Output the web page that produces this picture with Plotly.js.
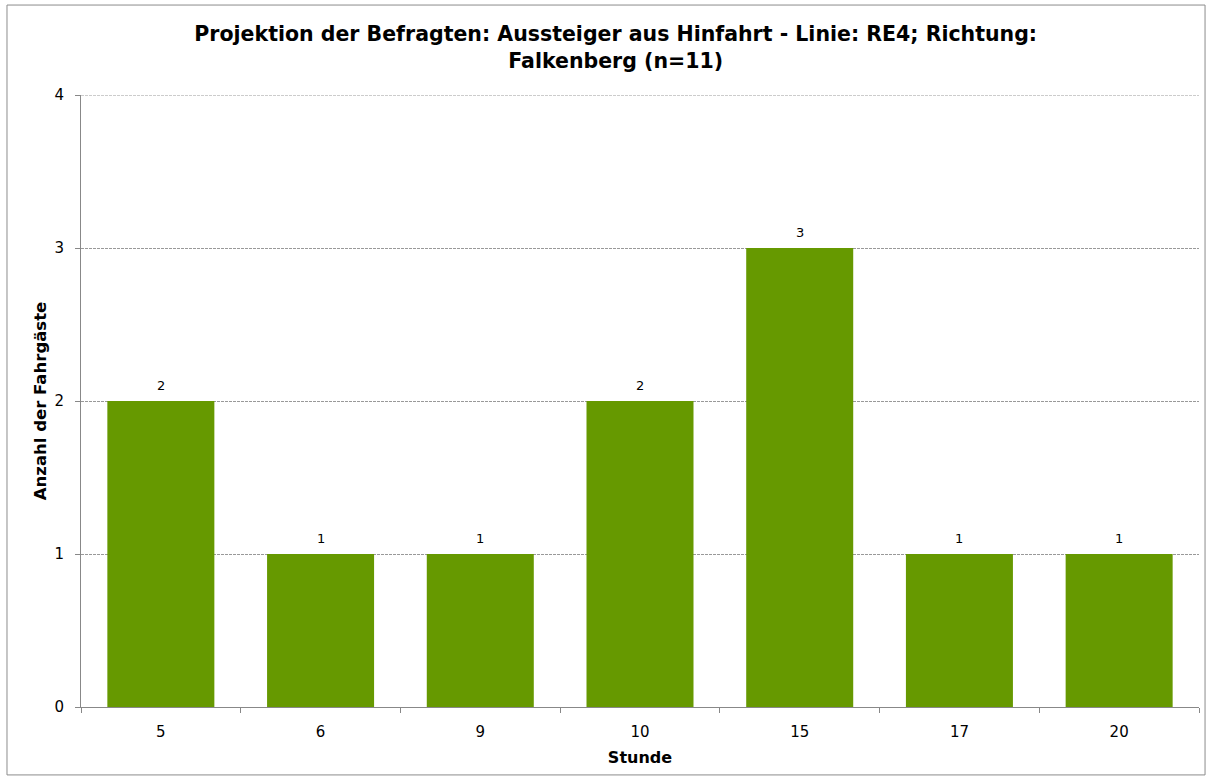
<!DOCTYPE html>
<html>
<head>
<meta charset="utf-8">
<script src="https://cdn.plot.ly/plotly-3.0.1.min.js"></script>
<style>
  html, body { margin: 0; padding: 0; background: #fff; }
  #chart { width: 1212px; height: 780px; }
</style>
</head>
<body>
<div id="chart"></div>
<script>
// Stunde (hour of alighting) and number of passengers per hour
const stunden = ["5", "6", "9", "10", "15", "17", "20"];
const anzahl = [2, 1, 1, 2, 3, 1, 1];
const yTicks = [0, 1, 2, 3, 4];
const yMax = 4;

const FONT = "Tahoma, 'DejaVu Sans', Verdana, sans-serif";

const trace = {
  type: "bar",
  x: stunden,
  y: anzahl,
  marker: { color: "#669900", line: { width: 0 } },
  hoverinfo: "x+y"
};

// value labels above each bar (x given as the category's position on the axis)
const valueLabels = stunden.map((s, i) => ({
  x: stunden.indexOf(s), y: anzahl[i], xref: "x", yref: "y",
  text: String(anzahl[i]),
  showarrow: false, yanchor: "bottom", yshift: 6,
  font: { family: FONT, size: 13, color: "#000" }
}));

const layout = {
  width: 1212,
  height: 780,
  paper_bgcolor: "#fff",
  plot_bgcolor: "#fff",
  margin: { l: 81, r: 13, t: 95, b: 73 },
  bargap: 0.33,
  showlegend: false,
  font: { family: FONT, size: 15, color: "#000" },
  title: {
    text: "<b>Projektion der Befragten: Aussteiger aus Hinfahrt - Linie: RE4; Richtung:<br>Falkenberg (n=11)</b>",
    font: { family: FONT, size: 20.5, color: "#000" },
    x: 0.508, xref: "container", xanchor: "center",
    y: 0.947, yref: "container", yanchor: "top"
  },
  xaxis: {
    type: "category",
    categoryorder: "array", categoryarray: stunden,
    range: [-0.5, stunden.length - 0.5],
    showline: true, linecolor: "#888", linewidth: 1,
    ticks: "outside", tickson: "boundaries", ticklen: 5, tickcolor: "#888",
    ticklabelstandoff: 11,
    tickfont: { family: FONT, size: 15, color: "#000" },
    showgrid: false,
    title: { text: "<b>Stunde</b>", font: { family: FONT, size: 16, color: "#000" }, standoff: 11 }
  },
  yaxis: {
    range: [0, yMax],
    tickvals: yTicks,
    ticktext: yTicks.map(String),
    showline: true, linecolor: "#888", linewidth: 1,
    ticks: "outside", ticklen: 5, tickcolor: "#888",
    ticklabelstandoff: 8,
    tickfont: { family: FONT, size: 15, color: "#000" },
    showgrid: true, gridcolor: "#999", gridwidth: 1, griddash: "3px,1px",
    zeroline: false,
    title: { text: "<b>Anzahl der Fahrgäste</b>", font: { family: FONT, size: 16.5, color: "#000" }, standoff: 3 }
  },
  annotations: valueLabels,
  shapes: [
    // chart-area frame
    {
      type: "rect", xref: "paper", yref: "paper",
      x0: -0.0662, x1: 1.0054, y0: -0.111, y1: 1.147,
      line: { color: "#8c8c8c", width: 1 }, fillcolor: "rgba(0,0,0,0)", layer: "below"
    },
    // gridline at the top of the value range
    {
      type: "line", xref: "paper", yref: "y",
      x0: 0, x1: 1, y0: yMax, y1: yMax,
      line: { color: "#999", width: 1, dash: "3px,1px" }, layer: "below"
    }
  ]
};

Plotly.newPlot("chart", [trace], layout, { displayModeBar: false, staticPlot: true });
</script>
</body>
</html>
